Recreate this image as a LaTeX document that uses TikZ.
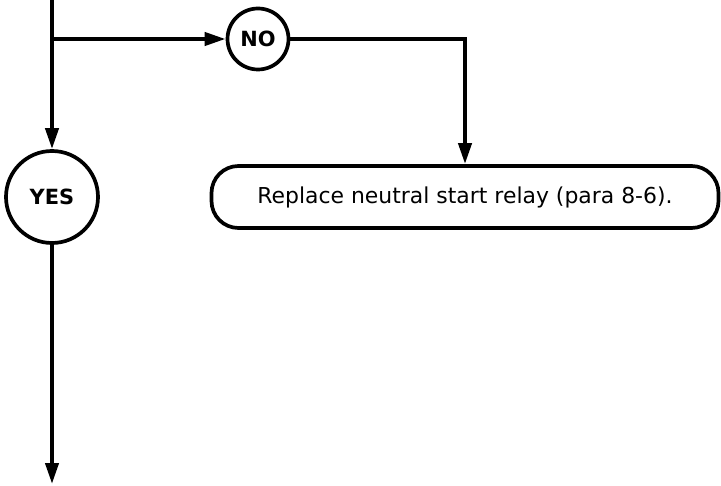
\documentclass[tikz,border=0pt]{standalone}
\usepackage{fontspec}
\setmainfont{DejaVu Sans}
\usetikzlibrary{arrows.meta}

\begin{document}
\begin{tikzpicture}[x=1bp,y=-1bp,
    line width=4bp,
    >={Triangle[length=21bp,width=13bp]},
    answer/.style={circle,draw,line width=3.7bp,inner sep=0pt,
      font=\fontsize{21}{25}\selectfont\bfseries},
    action/.style={draw,line width=3.7bp,rounded corners=27bp,
      minimum width=507bp,minimum height=62bp,
      font=\fontsize{22}{26}\selectfont}]
  \useasboundingbox (0,0) rectangle (721,486);
  % trunk and branch point
  \coordinate (top) at (52,0);
  \coordinate (split) at (52,39);
  \coordinate (out) at (52,484);
  % decision answers
  \node[answer,minimum size=61bp] (no) at (258,39) {NO};
  \node[answer,minimum size=92bp] (yes) at (52,197) {YES};
  % remedy
  \node[action] (replace) at (465,197) {Replace neutral start relay (para 8-6).};
  \draw[->] (top) -- (yes);
  \draw[->] (split) -- (no);
  \draw[->] (no) -| (replace.north);
  \draw[->] (yes) -- (out);
\end{tikzpicture}
\end{document}
